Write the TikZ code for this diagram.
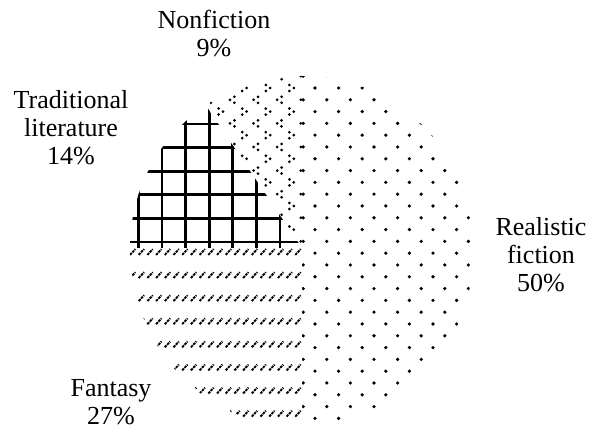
\documentclass[tikz,border=0pt]{standalone}
\usepackage{fontspec}
\setmainfont{Liberation Serif}
\definecolor{patColor}{RGB}{0,0,0}
\tikzset{
  sliceLabel/.style={align=center, inner sep=0pt, anchor=north, font=\fontsize{13}{14}\selectfont},
  dotmark/.style={fill=patColor},
  gridline/.style={line width=1.4pt, draw=patColor},
  slash/.style={line width=0.95pt, draw=patColor, dash pattern=on 1.3pt off 0.45pt},
}
\def\rad{172}
\def\radlow{180}

\begin{document}
\begin{tikzpicture}[x=0.5pt,y=-0.5pt]
  \useasboundingbox (0,0) rectangle (589,431);
  \coordinate (c) at (302,248);
  % Realistic fiction
  \begin{scope}
    \clip (c) -- ++(0,-\rad) arc[start angle=-90,end angle=0,radius=\rad]
      arc[start angle=0,end angle=90,x radius=\rad,y radius=\radlow] -- cycle;
    \foreach \r in {0,...,31}{
      \pgfmathtruncatemacro\pty{mod(\r,2)}
      \foreach \k in {-1,...,7}
        \fill[dotmark] ({315+23.6*\k+11.8*\pty},{64.4+11.8*\r}) circle[radius=1.8];
    }
  \end{scope}
  % Nonfiction
  \begin{scope}
    \clip (c) -- ++(236:\rad) arc[start angle=236,end angle=270,radius=\rad] -- cycle;
    \foreach \r in {0,...,16}{
      \pgfmathtruncatemacro\pty{mod(\r,2)}
      \foreach \k in {-7,...,0}{
        \pgfmathsetmacro\mx{315+23.6*\k+11.8*\pty}
        \pgfmathsetmacro\my{64.4+11.8*\r}
        \ifnum\pty=1
          \fill[dotmark] (\mx+2,\my-3) circle[radius=1.5] (\mx+2,\my+3) circle[radius=1.5]
            (\mx-2.4,\my) circle[radius=1.5];
        \else
          \fill[dotmark] (\mx-2,\my-3) circle[radius=1.5] (\mx-2,\my+3) circle[radius=1.5]
            (\mx+2.4,\my) circle[radius=1.5];
        \fi
      }
    }
  \end{scope}
  % Traditional literature
  \begin{scope}
    \clip (c) -- ++(-\rad,0) arc[start angle=180,end angle=236,radius=\rad] -- cycle;
    \foreach \k in {0,...,7}{
      \draw[gridline] ({280-23.6*\k},60) -- ({280-23.6*\k},260);
      \draw[gridline] (120,{242-23.6*\k}) -- (310,{242-23.6*\k});
    }
  \end{scope}
  % Fantasy
  \begin{scope}
    \clip (c) -- ++(0,\radlow) arc[start angle=90,end angle=180,x radius=\rad,y radius=\radlow] -- cycle;
    \foreach \j in {0,...,7}
      \foreach \k in {0,...,20}
        \draw[slash] ({298-8.7*\k-2.7},{252+23.1*\j+2.9}) -- ({298-8.7*\k+2.7},{252+23.1*\j-2.9});
  \end{scope}
  % Labels
  \node[sliceLabel] (nonfic) at (214,10) {Nonfiction\\9\%};
  \node[sliceLabel] (tradlit) at (71,90) {Traditional\\literature\\14\%};
  \node[sliceLabel] (realfic) at (541,217) {Realistic\\fiction\\50\%};
  \node[sliceLabel] (fantasy) at (111,379) {Fantasy\\27\%};
\end{tikzpicture}
\end{document}
